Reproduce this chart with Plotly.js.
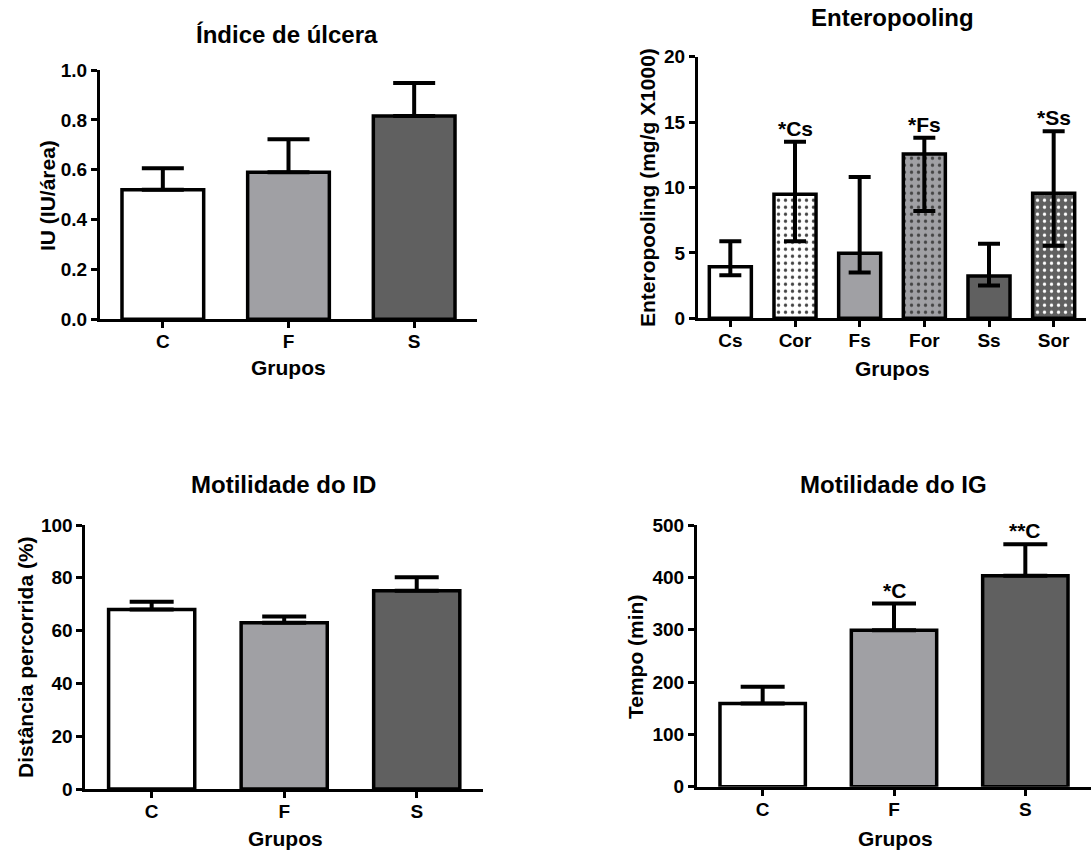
<!DOCTYPE html>
<html>
<head>
<meta charset="utf-8">
<script src="https://cdn.plot.ly/plotly-3.0.1.min.js"></script>
<style>html,body{margin:0;padding:0;background:#fff;}#chart{width:1091px;height:852px;}</style>
</head>
<body>
<div id="chart"></div>
<script>
// ---- Data ----
const ulcerCats = ['C', 'F', 'S'];
const ulcerMean = [0.52, 0.59, 0.815];
const ulcerErr = [0.086, 0.132, 0.133];

const enteroCats = ['Cs', 'Cor', 'Fs', 'For', 'Ss', 'Sor'];
const enteroMean = [3.95, 9.48, 4.97, 12.56, 3.23, 9.56];
const enteroUpper = [5.9, 13.5, 10.8, 13.8, 5.7, 14.3];
const enteroLower = [3.3, 5.9, 3.5, 8.2, 2.5, 5.55];
const enteroSig = ['', '*Cs', '', '*Fs', '', '*Ss'];

const idCats = ['C', 'F', 'S'];
const idMean = [68.0, 63.0, 75.1];
const idErr = [2.9, 2.3, 5.1];

const igCats = ['C', 'F', 'S'];
const igMean = [159, 299, 403];
const igErr = [32, 51, 60];
const igSig = ['', '*C', '**C'];

const titles = ['Índice de úlcera', 'Enteropooling', 'Motilidade do ID', 'Motilidade do IG'];
const yTitles = ['IU (IU/área)', 'Enteropooling (mg/g X1000)', 'Distância percorrida (%)', 'Tempo (min)'];
const xTitle = 'Grupos';

// ---- Styling ----
const W = 1091, H = 852;
const FONT = 'Arial, "Liberation Sans", sans-serif';
const white = '#ffffff', light = '#a0a0a4', dark = '#606060';
const fill3 = [white, light, dark];
const fill6 = [white, white, light, light, dark, dark];
const pat6 = ['', '.', '', '.', '', '.'];

const px = v => v / W;
const py = v => 1 - v / H;

function barTrace(cats, vals, colors, xa, ya, err, errMinus, capw, pattern) {
  const t = {
    type: 'bar', x: cats, y: vals, xaxis: xa, yaxis: ya,
    marker: { color: colors, line: { color: '#000', width: 3.5 } },
    error_y: {
      type: 'data', symmetric: false, array: err,
      arrayminus: errMinus, color: '#000', thickness: 4, width: capw, visible: true
    },
    hoverinfo: 'skip', showlegend: false
  };
  if (pattern) {
    t.marker.pattern = { shape: pattern, fillmode: 'overlay', fgcolor: '#000', fgopacity: 1, size: 7, solidity: 0.18 };
  }
  return t;
}

const zeros3 = [0, 0, 0];
const traces = [
  barTrace(ulcerCats, ulcerMean, fill3, 'x', 'y', ulcerErr, zeros3, 21),
  barTrace(enteroCats, enteroMean, fill6, 'x2', 'y2',
    enteroUpper.map((u, i) => u - enteroMean[i]),
    enteroLower.map((l, i) => enteroMean[i] - l), 11, pat6),
  barTrace(idCats, idMean, fill3, 'x3', 'y3', idErr, zeros3, 22),
  barTrace(igCats, igMean, fill3, 'x4', 'y4', igErr, zeros3, 22)
];

const tickFont = { family: FONT, size: 19, color: '#000', weight: 'bold' };
function xAxis(domain, anchor) {
  return {
    domain: domain, anchor: anchor, type: 'category', range: [-0.5, null],
    showline: true, linewidth: 3, linecolor: '#000', ticks: 'outside', ticklen: 6,
    tickwidth: 3, tickcolor: '#000', showgrid: false, zeroline: false,
    tickfont: tickFont, fixedrange: true, ticklabelstandoff: -3
  };
}
function yAxis(domain, anchor, range, dtick, fmt) {
  return {
    domain: domain, anchor: anchor, range: range, dtick: dtick, tick0: 0, tickformat: fmt,
    showline: true, linewidth: 3, linecolor: '#000', ticks: 'outside', ticklen: 6,
    tickwidth: 3, tickcolor: '#000', showgrid: false, zeroline: false,
    tickfont: tickFont, fixedrange: true
  };
}

const xa1 = xAxis([px(100), px(477)], 'y'); xa1.range = [-0.5, 2.5];
const xa2 = xAxis([px(698), px(1086)], 'y2'); xa2.range = [-0.5, 5.5];
const xa3 = xAxis([px(85.4), px(483)], 'y3'); xa3.range = [-0.5, 2.5];
const xa4 = xAxis([px(697), 1], 'y4'); xa4.range = [-0.5, 2.5];

const ya1 = yAxis([py(319.3), py(70)], 'x', [0, 1.0], 0.2, '.1f');
const ya2 = yAxis([py(318.3), py(56.7)], 'x2', [0, 20], 5, 'd');
const ya3 = yAxis([py(789), py(525)], 'x3', [0, 100], 20, 'd');
const ya4 = yAxis([py(786.7), py(525)], 'x4', [0, 500], 100, 'd');

const titleFont = { family: FONT, size: 24, color: '#000', weight: 'bold' };
const axFont = { family: FONT, size: 21, color: '#000', weight: 'bold' };
const sigFont = { family: FONT, size: 21, color: '#000', weight: 'bold' };

const ann = [];
const titlePos = [[287, 35], [892, 18], [283, 485], [893, 485]];
const yTitlePos = [[47, 196], [648, 188], [25, 657], [635, 657]];
const xTitlePos = [[288, 367], [892, 368], [285, 838], [895, 838]];
for (let i = 0; i < 4; i++) {
  ann.push({ text: titles[i], x: px(titlePos[i][0]), y: py(titlePos[i][1]), xref: 'paper', yref: 'paper',
    xanchor: 'center', yanchor: 'middle', showarrow: false, font: titleFont });
  ann.push({ text: yTitles[i], x: px(yTitlePos[i][0]), y: py(yTitlePos[i][1]), xref: 'paper', yref: 'paper',
    xanchor: 'center', yanchor: 'middle', textangle: -90, showarrow: false, font: axFont });
  ann.push({ text: xTitle, x: px(xTitlePos[i][0]), y: py(xTitlePos[i][1]), xref: 'paper', yref: 'paper',
    xanchor: 'center', yanchor: 'middle', showarrow: false, font: axFont });
}
enteroSig.forEach((s, i) => {
  if (!s) return;
  ann.push({ text: s, x: enteroCats[i], y: enteroUpper[i], xref: 'x2', yref: 'y2',
    xanchor: 'center', yanchor: 'bottom', yshift: 0, showarrow: false, font: sigFont });
});
igSig.forEach((s, i) => {
  if (!s) return;
  ann.push({ text: s, x: igCats[i], y: igMean[i] + igErr[i], xref: 'x4', yref: 'y4',
    xanchor: 'center', yanchor: 'bottom', yshift: 0, showarrow: false, font: sigFont });
});

const layout = {
  width: W, height: H, margin: { l: 0, r: 0, t: 0, b: 0 },
  paper_bgcolor: '#fff', plot_bgcolor: 'rgba(0,0,0,0)',
  bargap: 0.35, showlegend: false,
  font: { family: FONT, color: '#000' },
  xaxis: xa1, yaxis: ya1, xaxis2: xa2, yaxis2: ya2,
  xaxis3: xa3, yaxis3: ya3, xaxis4: xa4, yaxis4: ya4,
  annotations: ann
};

Plotly.newPlot('chart', traces, layout, { displayModeBar: false, staticPlot: true });
</script>
</body>
</html>
